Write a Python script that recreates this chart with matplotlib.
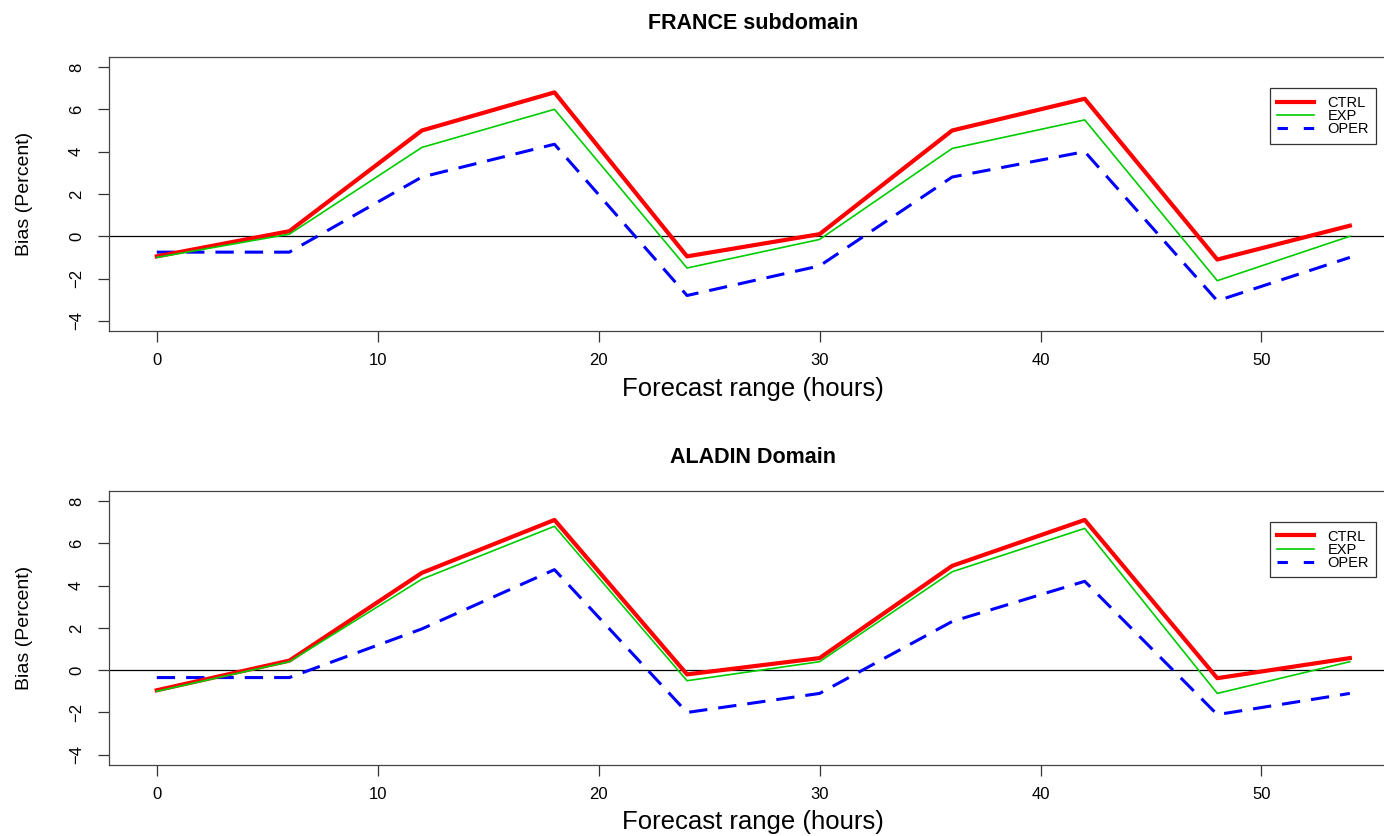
import matplotlib.pyplot as plt
from matplotlib.lines import Line2D

# forecast ranges (hours)
hours = [0, 6, 12, 18, 24, 30, 36, 42, 48, 54]

# FRANCE subdomain bias (%)
france_ctrl = [-0.95, 0.24, 5.0, 6.8, -0.95, 0.1, 5.0, 6.5, -1.1, 0.5]
france_exp = [-1.0, 0.1, 4.2, 6.0, -1.5, -0.15, 4.15, 5.5, -2.1, 0.0]
france_oper = [-0.75, -0.75, 2.8, 4.35, -2.8, -1.4, 2.8, 4.0, -3.05, -1.0]

# ALADIN domain bias (%)
aladin_ctrl = [-0.95, 0.45, 4.6, 7.1, -0.2, 0.57, 4.93, 7.1, -0.38, 0.57]
aladin_exp = [-1.0, 0.4, 4.3, 6.8, -0.5, 0.4, 4.65, 6.7, -1.1, 0.4]
aladin_oper = [-0.35, -0.35, 1.95, 4.75, -2.0, -1.1, 2.3, 4.2, -2.1, -1.1]

titles = ["FRANCE subdomain", "ALADIN Domain"]
xticks = [0, 10, 20, 30, 40, 50]
yticks = [-4, -2, 0, 2, 4, 6, 8]

plt.rcParams['font.family'] = ['Liberation Sans', 'DejaVu Sans']

fig = plt.figure(figsize=(13.84, 8.36), dpi=100)
ax_top = fig.add_axes([0.0788, 0.604, 0.931, 0.328])
ax_bot = fig.add_axes([0.0788, 0.085, 0.931, 0.328])

panels = [
    (ax_top, titles[0], france_ctrl, france_exp, france_oper),
    (ax_bot, titles[1], aladin_ctrl, aladin_exp, aladin_oper),
]

# legend keys (dash spacing tuned so the short key shows two dashes)
keys = [
    Line2D([], [], color='#ff0000', lw=3.0),
    Line2D([], [], color='#00cd00', lw=1.2),
    Line2D([], [], color='#0000ff', lw=2.2, ls=(0, (3.4, 5.2))),
]

for ax, title, ctrl, exp, oper in panels:
    ax.axhline(0, color='black', lw=0.9, zorder=1)
    ax.plot(hours, ctrl, color='#ff0000', lw=3.0, zorder=3)
    ax.plot(hours, exp, color='#00cd00', lw=1.2, zorder=4)
    ax.plot(hours, oper, color='#0000ff', lw=2.2, ls=(0, (6, 3.6)), zorder=2)

    ax.set_xlim(-2.16, 56.16)
    ax.set_ylim(-4.48, 8.48)
    ax.set_xticks(xticks)
    ax.set_yticks(yticks)
    ax.set_yticklabels([str(v).replace('-', '\u2212') for v in yticks],
                       rotation=90, va='center')
    ax.tick_params(direction='out', length=8, width=0.9, color='#333333',
                   labelsize=12)
    ax.tick_params(axis='x', pad=8)
    ax.tick_params(axis='y', pad=10)
    for s in ax.spines.values():
        s.set_color('#444444')
        s.set_linewidth(0.9)

    ax.set_title(title, fontsize=15.5, fontweight='bold', pad=20)
    ax.set_xlabel('Forecast range (hours)', fontsize=18.5, labelpad=6)
    ax.set_ylabel('Bias (Percent)', fontsize=14, labelpad=26)

    leg = ax.legend(keys, ['CTRL', 'EXP', 'OPER'], loc='upper right',
                    bbox_to_anchor=(0.9835, 0.885),
                    fontsize=10.5, frameon=True, fancybox=False,
                    handlelength=2.5, handletextpad=0.95, borderpad=0.5,
                    labelspacing=-0.05, borderaxespad=0)
    leg.get_frame().set_edgecolor('black')
    leg.get_frame().set_linewidth(0.9)

fig.savefig('out.png', dpi=100)
